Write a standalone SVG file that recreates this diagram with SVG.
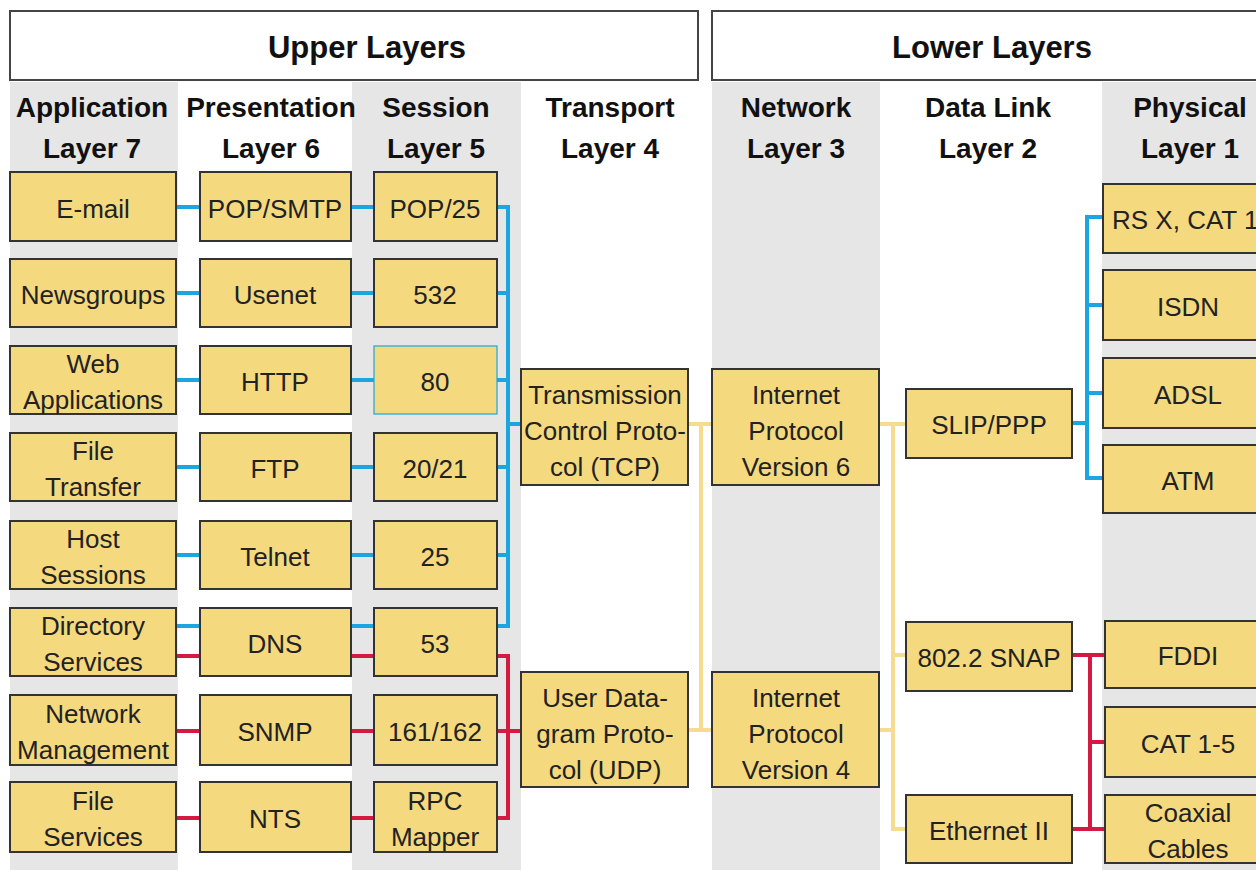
<svg xmlns="http://www.w3.org/2000/svg" width="1256" height="870" viewBox="0 0 1256 870">
<style>
.bg{fill:#e6e6e6}
.hdr{fill:#fff;stroke:#444;stroke-width:2}
.ht{font-family:"Liberation Sans",Arial,sans-serif;font-weight:bold;font-size:31px;fill:#111;text-anchor:middle}
.ct{font-family:"Liberation Sans",Arial,sans-serif;font-weight:bold;font-size:28px;fill:#111;text-anchor:middle}
.n rect{fill:#f4d97f;stroke:#333;stroke-width:2}
.n text{font-family:"Liberation Sans",Arial,sans-serif;font-size:26px;fill:#222;text-anchor:middle;transform:translateY(2px)}
.b{fill:none;stroke:#1ba6df;stroke-width:4}
.r{fill:none;stroke:#d41a40;stroke-width:4}
.y{fill:none;stroke:#f6dc8e;stroke-width:4}
</style>
<rect width="1256" height="870" fill="#fff"/>
<g id="columns">
<rect class="bg" x="10" y="82" width="168" height="788"/>
<rect class="bg" x="352" y="82" width="169" height="788"/>
<rect class="bg" x="712" y="82" width="168" height="788"/>
<rect class="bg" x="1102" y="82" width="154" height="788"/>
</g>
<g id="headers">
<rect class="hdr" x="10" y="11" width="688" height="69"/>
<text class="ht" x="367" y="58">Upper Layers</text>
<rect class="hdr" x="712" y="11" width="560" height="69"/>
<text class="ht" x="992" y="58">Lower Layers</text>
<text class="ct" x="92" y="117">Application</text><text class="ct" x="92" y="158">Layer 7</text>
<text class="ct" x="271" y="117">Presentation</text><text class="ct" x="271" y="158">Layer 6</text>
<text class="ct" x="436" y="117">Session</text><text class="ct" x="436" y="158">Layer 5</text>
<text class="ct" x="610" y="117">Transport</text><text class="ct" x="610" y="158">Layer 4</text>
<text class="ct" x="796" y="117">Network</text><text class="ct" x="796" y="158">Layer 3</text>
<text class="ct" x="988" y="117">Data Link</text><text class="ct" x="988" y="158">Layer 2</text>
<text class="ct" x="1190" y="117">Physical</text><text class="ct" x="1190" y="158">Layer 1</text>
</g>
<g id="connectors">
<path class="b" d="M176 207H200M351 207H374M176 293H200M351 293H374M176 380H200M351 380H374M176 467H200M351 467H374M176 555H200M351 555H374M176 626H200M351 626H374"/>
<path class="r" d="M176 656H200M351 656H374M176 731H200M351 731H374M176 818H200M351 818H374"/>
<path class="b" d="M497 207H508V626H497M497 293H508M497 380H508M497 467H508M497 555H508M508 424H521"/>
<path class="r" d="M497 656H508V818H497M497 731H521"/>
<path class="y" d="M688 424H712M701 424V730M688 730H712"/>
<path class="y" d="M879 424H906M893 424V829H906M879 730H893M893 655H906"/>
<path class="b" d="M1072 423H1087M1103 217H1087V478H1103M1087 305H1103M1087 393H1103"/>
<path class="r" d="M1072 655H1105M1072 829H1105M1090 655V829M1090 742H1105"/>
</g>
<g id="email" class="n"><rect x="10" y="172" width="166" height="69"/><text x="93" y="216">E-mail</text></g>
<g id="newsgroups" class="n"><rect x="10" y="259" width="166" height="68"/><text x="93" y="302">Newsgroups</text></g>
<g id="webapps" class="n"><rect x="10" y="346" width="166" height="68"/><text x="93" y="371">Web</text><text x="93" y="407">Applications</text></g>
<g id="filetransfer" class="n"><rect x="10" y="433" width="166" height="68"/><text x="93" y="458">File</text><text x="93" y="494">Transfer</text></g>
<g id="hostsessions" class="n"><rect x="10" y="521" width="166" height="68"/><text x="93" y="546">Host</text><text x="93" y="582">Sessions</text></g>
<g id="directory" class="n"><rect x="10" y="608" width="166" height="68"/><text x="93" y="633">Directory</text><text x="93" y="669">Services</text></g>
<g id="netmgmt" class="n"><rect x="10" y="695" width="166" height="70"/><text x="93" y="721">Network</text><text x="93" y="757">Management</text></g>
<g id="fileservices" class="n"><rect x="10" y="782" width="166" height="70"/><text x="93" y="808">File</text><text x="93" y="844">Services</text></g>

<g id="popsmtp" class="n"><rect x="200" y="172" width="151" height="69"/><text x="275" y="216">POP/SMTP</text></g>
<g id="usenet" class="n"><rect x="200" y="259" width="151" height="68"/><text x="275" y="302">Usenet</text></g>
<g id="http" class="n"><rect x="200" y="346" width="151" height="68"/><text x="275" y="389">HTTP</text></g>
<g id="ftp" class="n"><rect x="200" y="433" width="151" height="68"/><text x="275" y="476">FTP</text></g>
<g id="telnet" class="n"><rect x="200" y="521" width="151" height="68"/><text x="275" y="564">Telnet</text></g>
<g id="dns" class="n"><rect x="200" y="608" width="151" height="68"/><text x="275" y="651">DNS</text></g>
<g id="snmp" class="n"><rect x="200" y="695" width="151" height="70"/><text x="275" y="739">SNMP</text></g>
<g id="nts" class="n"><rect x="200" y="782" width="151" height="70"/><text x="275" y="826">NTS</text></g>

<g id="pop25" class="n"><rect x="374" y="172" width="123" height="69"/><text x="435" y="216">POP/25</text></g>
<g id="p532" class="n"><rect x="374" y="259" width="123" height="68"/><text x="435" y="302">532</text></g>
<g id="p80" class="n"><rect x="374" y="346" width="123" height="68" style="stroke:#1ba6df;stroke-width:1.2"/><text x="435" y="389">80</text></g>
<g id="p2021" class="n"><rect x="374" y="433" width="123" height="68"/><text x="435" y="476">20/21</text></g>
<g id="p25" class="n"><rect x="374" y="521" width="123" height="68"/><text x="435" y="564">25</text></g>
<g id="p53" class="n"><rect x="374" y="608" width="123" height="68"/><text x="435" y="651">53</text></g>
<g id="p161" class="n"><rect x="374" y="695" width="123" height="70"/><text x="435" y="739">161/162</text></g>
<g id="rpc" class="n"><rect x="374" y="782" width="123" height="70"/><text x="435" y="808">RPC</text><text x="435" y="844">Mapper</text></g>

<g id="tcp" class="n"><rect x="521" y="369" width="167" height="116"/><text x="605" y="402">Transmission</text><text x="605" y="438">Control Proto-</text><text x="605" y="474">col (TCP)</text></g>
<g id="udp" class="n"><rect x="521" y="672" width="167" height="115"/><text x="605" y="705">User Data-</text><text x="605" y="741">gram Proto-</text><text x="605" y="777">col (UDP)</text></g>

<g id="ipv6" class="n"><rect x="712" y="369" width="167" height="116"/><text x="796" y="402">Internet</text><text x="796" y="438">Protocol</text><text x="796" y="474">Version 6</text></g>
<g id="ipv4" class="n"><rect x="712" y="672" width="167" height="115"/><text x="796" y="705">Internet</text><text x="796" y="741">Protocol</text><text x="796" y="777">Version 4</text></g>

<g id="slipppp" class="n"><rect x="906" y="389" width="166" height="69"/><text x="989" y="432">SLIP/PPP</text></g>
<g id="snap" class="n"><rect x="906" y="622" width="166" height="69"/><text x="989" y="665">802.2 SNAP</text></g>
<g id="ethernet" class="n"><rect x="906" y="795" width="166" height="68"/><text x="989" y="838">Ethernet II</text></g>

<g id="rsx" class="n"><rect x="1103" y="184" width="175" height="69"/><text x="1112" y="227" style="text-anchor:start">RS X, CAT 1</text></g>
<g id="isdn" class="n"><rect x="1103" y="270" width="175" height="70"/><text x="1188" y="314">ISDN</text></g>
<g id="adsl" class="n"><rect x="1103" y="358" width="175" height="70"/><text x="1188" y="402">ADSL</text></g>
<g id="atm" class="n"><rect x="1103" y="445" width="175" height="68"/><text x="1188" y="488">ATM</text></g>
<g id="fddi" class="n"><rect x="1105" y="621" width="175" height="67"/><text x="1188" y="663">FDDI</text></g>
<g id="cat15" class="n"><rect x="1105" y="707" width="175" height="70"/><text x="1188" y="751">CAT 1-5</text></g>
<g id="coax" class="n"><rect x="1105" y="795" width="175" height="68"/><text x="1188" y="820">Coaxial</text><text x="1188" y="856">Cables</text></g>
</svg>
